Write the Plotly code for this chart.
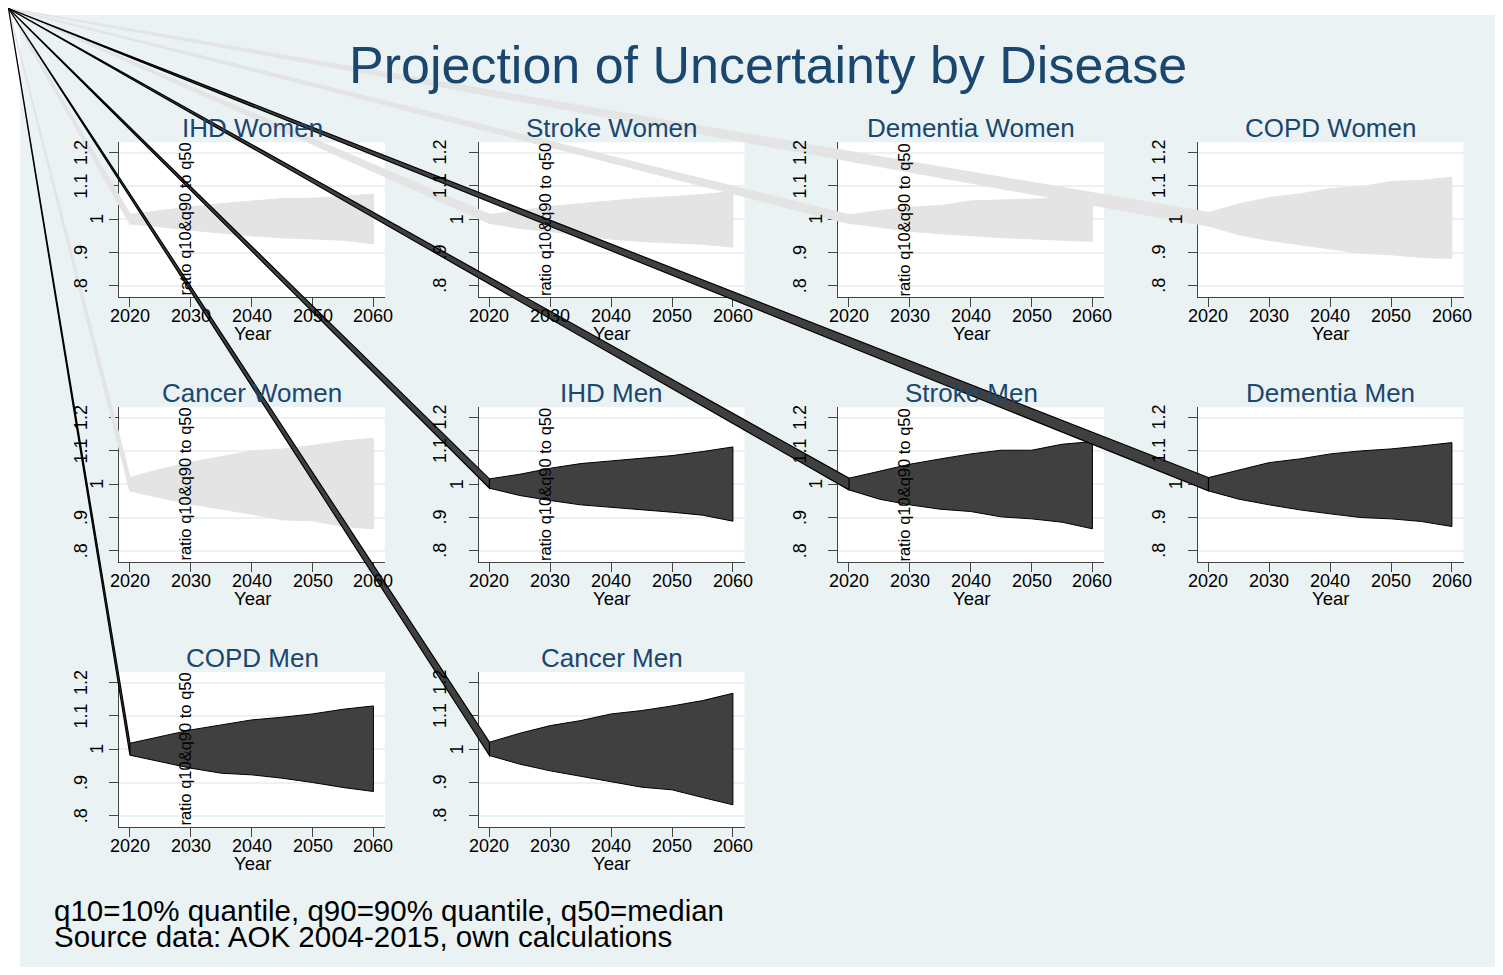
import plotly.graph_objects as go

# ---------------- data ----------------
years = [2020, 2025, 2030, 2035, 2040, 2045, 2050, 2055, 2060]

panel_titles = ["IHD Women", "Stroke Women", "Dementia Women", "COPD Women",
                "Cancer Women", "IHD Men", "Stroke Men", "Dementia Men",
                "COPD Men", "Cancer Men"]

ihd_women_q90 = [1.015, 1.027, 1.037, 1.047, 1.055, 1.062, 1.063, 1.068, 1.076]
ihd_women_q10 = [0.986, 0.977, 0.967, 0.958, 0.950, 0.944, 0.940, 0.937, 0.926]
stroke_women_q90 = [1.014, 1.027, 1.038, 1.047, 1.056, 1.063, 1.068, 1.074, 1.083]
stroke_women_q10 = [0.988, 0.972, 0.963, 0.952, 0.940, 0.933, 0.929, 0.925, 0.916]
dementia_women_q90 = [1.013, 1.026, 1.036, 1.041, 1.055, 1.058, 1.060, 1.062, 1.066]
dementia_women_q10 = [0.988, 0.975, 0.964, 0.956, 0.950, 0.945, 0.941, 0.936, 0.933]
copd_women_q90 = [1.020, 1.046, 1.065, 1.076, 1.092, 1.098, 1.113, 1.117, 1.126]
copd_women_q10 = [0.980, 0.953, 0.936, 0.923, 0.911, 0.898, 0.893, 0.885, 0.882]
cancer_women_q90 = [1.020, 1.045, 1.066, 1.083, 1.100, 1.106, 1.116, 1.130, 1.138]
cancer_women_q10 = [0.980, 0.959, 0.940, 0.925, 0.910, 0.893, 0.890, 0.873, 0.866]
ihd_men_q90 = [1.016, 1.030, 1.048, 1.062, 1.070, 1.078, 1.086, 1.098, 1.112]
ihd_men_q10 = [0.988, 0.966, 0.951, 0.938, 0.930, 0.923, 0.916, 0.907, 0.889]
stroke_men_q90 = [1.018, 1.038, 1.060, 1.076, 1.091, 1.102, 1.102, 1.120, 1.128]
stroke_men_q10 = [0.983, 0.955, 0.938, 0.925, 0.918, 0.902, 0.896, 0.886, 0.866]
dementia_men_q90 = [1.020, 1.043, 1.065, 1.076, 1.091, 1.100, 1.106, 1.115, 1.125]
dementia_men_q10 = [0.980, 0.955, 0.938, 0.923, 0.911, 0.900, 0.896, 0.888, 0.873]
copd_men_q90 = [1.018, 1.038, 1.058, 1.073, 1.088, 1.096, 1.106, 1.120, 1.130]
copd_men_q10 = [0.982, 0.963, 0.943, 0.928, 0.923, 0.913, 0.900, 0.885, 0.873]
cancer_men_q90 = [1.021, 1.048, 1.071, 1.086, 1.106, 1.116, 1.130, 1.146, 1.168]
cancer_men_q10 = [0.981, 0.955, 0.935, 0.918, 0.903, 0.886, 0.878, 0.855, 0.833]

x_tick_vals = [2020, 2030, 2040, 2050, 2060]
y_tick_vals = [0.8, 0.9, 1.0, 1.1, 1.2]
y_tick_text = [".8", ".9", "1", "1.1", "1.2"]

main_title = "Projection of Uncertainty by Disease"
y_title = "ratio q10&q90 to q50"
x_title = "Year"
note_lines = ["q10=10% quantile, q90=90% quantile, q50=median",
              "Source data: AOK 2004-2015, own calculations"]

series = [
    (ihd_women_q10, ihd_women_q90), (stroke_women_q10, stroke_women_q90),
    (dementia_women_q10, dementia_women_q90), (copd_women_q10, copd_women_q90),
    (cancer_women_q10, cancer_women_q90), (ihd_men_q10, ihd_men_q90),
    (stroke_men_q10, stroke_men_q90), (dementia_men_q10, dementia_men_q90),
    (copd_men_q10, copd_men_q90), (cancer_men_q10, cancer_men_q90),
]

# ---------------- geometry (page pixels) ----------------
OX, OY = 8, 8             # default body margin of the html page
FW, FH = 1495, 959        # figure size so that the page is exactly 1503 x 975
XR = [2018.2, 2061.9]
YR = [0.767, 1.231]
col_left = [119.0, 478.5, 838.0, 1197.5]
row_top = [142.3, 407.3, 672.3]
PW, PH = 266.0, 154.5
corner = (8.5, 8.5)

NAVY = "#1A476F"
BG = "#EAF2F3"
FONT = "Liberation Sans, Arial, sans-serif"


def px(x):
    return (x - OX) / FW


def py(y):
    return 1 - (y - OY) / FH


fig = go.Figure()
layout = dict(
    width=FW, height=FH, margin=dict(l=0, r=0, t=0, b=0, pad=0),
    paper_bgcolor=BG, plot_bgcolor="white", showlegend=False,
    font=dict(family=FONT, color="black"),
)
annotations = []
shapes = [
    dict(type="rect", xref="paper", yref="paper", x0=0, x1=1, y0=py(15), y1=1.01,
         fillcolor="white", line=dict(width=0), layer="below"),
    dict(type="rect", xref="paper", yref="paper", x0=-0.01, x1=px(20), y0=-0.01, y1=1.01,
         fillcolor="white", line=dict(width=0), layer="below"),
]


def to_page(r, c, xv, yv):
    X = col_left[c] + (xv - XR[0]) / (XR[1] - XR[0]) * PW
    Y = row_top[r] + (YR[1] - yv) / (YR[1] - YR[0]) * PH
    return X, Y


def txt(text, x, y, size, color="black", angle=0, xanchor="center", xref="paper", yref="paper"):
    return dict(text=text, x=x, y=y, xref=xref, yref=yref, showarrow=False,
                textangle=angle, xanchor=xanchor, yanchor="middle",
                font=dict(size=size, color=color, family=FONT))


strip_shapes = []
for i, (title, (q10, q90)) in enumerate(zip(panel_titles, series)):
    r, c = divmod(i, 4)
    n = "" if i == 0 else str(i + 1)
    men = "Men" in title
    fill = "#404040" if men else "#E4E4E4"
    linec = "black" if men else "#E4E4E4"
    left, top = col_left[c], row_top[r]
    bottom = top + PH
    layout["xaxis" + n] = dict(
        domain=[px(left), px(left + PW)], anchor="y" + n, range=XR,
        tickvals=x_tick_vals, showticklabels=False,
        ticks="outside", ticklen=9, tickcolor="#444", tickwidth=1,
        showline=True, linecolor="#444", linewidth=1, showgrid=False,
        zeroline=False, fixedrange=True,
    )
    layout["yaxis" + n] = dict(
        domain=[py(bottom), py(top)], anchor="x" + n, range=YR,
        tickvals=y_tick_vals, showticklabels=False, ticks="outside", ticklen=9,
        tickcolor="#444", tickwidth=1, showline=True, linecolor="#444",
        linewidth=1, showgrid=True, gridcolor=BG, gridwidth=1.5,
        zeroline=False, fixedrange=True,
    )
    fig.add_trace(go.Scatter(
        x=years + years[::-1], y=q90 + q10[::-1], fill="toself",
        fillcolor=fill, mode="lines", line=dict(color=linec, width=1),
        xaxis="x" + n, yaxis="y" + n, hoverinfo="skip",
    ))
    cx = px(left + PW / 2)
    annotations.append(txt(title, cx, py(top - 14), 26, NAVY))
    annotations.append(txt(x_title, cx, py(bottom + 36.5), 18.5))
    for xv in x_tick_vals:
        annotations.append(txt(str(xv), xv, py(bottom + 19.5), 18, xref="x" + n))
    for yv, lab in zip(y_tick_vals, y_tick_text):
        off = 21.5 if lab == "1" else 38.5
        annotations.append(txt(lab, px(left - off), yv, 18, angle=-90, yref="y" + n))
    has_right = (c < 3) and (i + 1 < len(panel_titles))
    if has_right:
        annotations.append(txt(y_title, px(left + 66), py(top + PH / 2), 16.5, angle=-90))
    # rendering artefact: the band polygon path starts at the page corner
    ux, uy = to_page(r, c, years[0], q90[0])
    lx, ly = to_page(r, c, years[0], q10[0])
    strip_shapes.append(dict(
        type="path", xref="paper", yref="paper", layer="above",
        path=f"M {px(corner[0])},{py(corner[1])} L {px(ux)},{py(uy)} L {px(lx)},{py(ly)} Z",
        fillcolor=fill, line=dict(color=linec, width=1.2 if men else 1.5),
    ))

shapes += strip_shapes

annotations.append(txt(main_title, px(768), py(65), 52, NAVY))
for k, line in enumerate(note_lines):
    annotations.append(txt(line, px(52), py(910 + 26 * k), 29.5, xanchor="left"))

layout["annotations"] = annotations
layout["shapes"] = shapes
fig.update_layout(**layout)

fig.write_html("out.html", config={"displayModeBar": False})
